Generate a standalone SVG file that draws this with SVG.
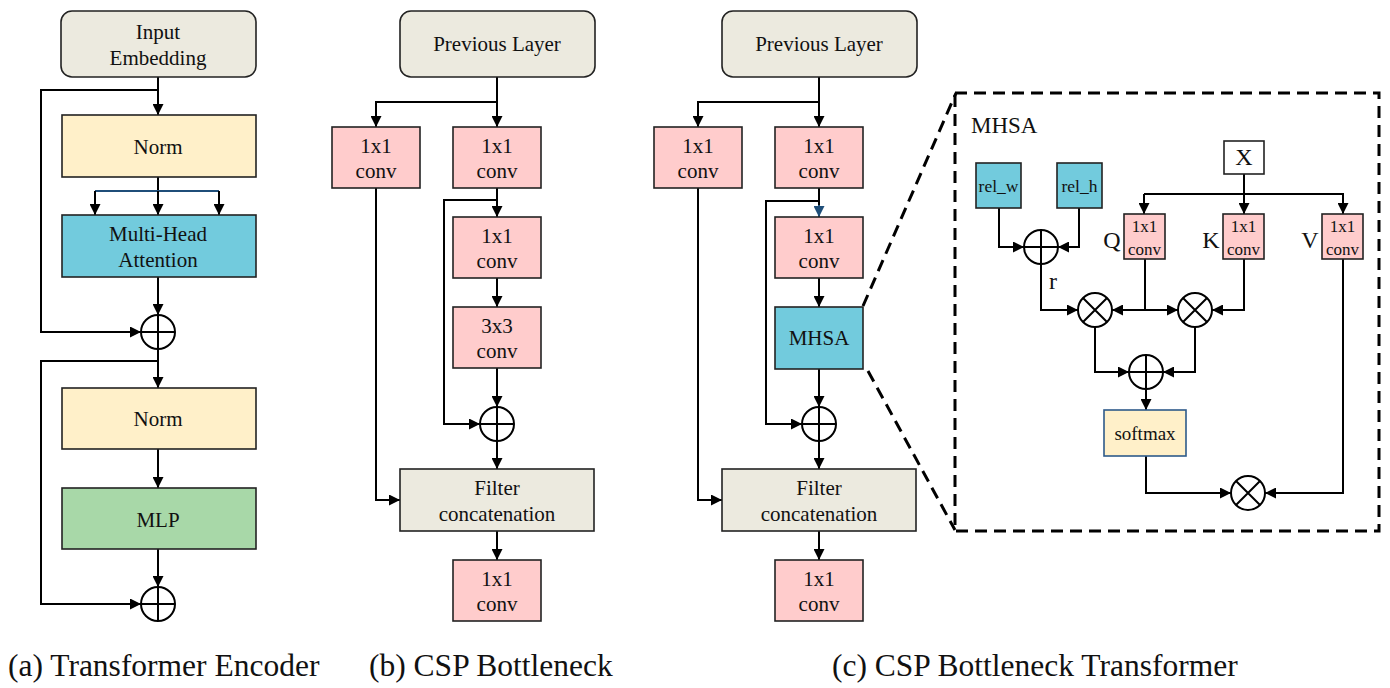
<svg xmlns="http://www.w3.org/2000/svg" width="1390" height="688" viewBox="0 0 1390 688">
<style>
text{font-family:"Liberation Serif","Times New Roman",serif;fill:#111;text-anchor:middle}
.t{font-size:21px}
.s{font-size:17px}
.cap{font-size:31.5px;text-anchor:start}
.box{stroke:#222;stroke-width:1.6}
.beige{fill:#ECEADF}
.yel{fill:#FFF0C9}
.blue{fill:#72CBDD}
.pink{fill:#FFCCCC}
.green{fill:#A8D8A8}
.ln{fill:none;stroke:#000;stroke-width:2}
.ar{fill:none;stroke:#000;stroke-width:2;marker-end:url(#ah)}
.op{fill:#fff;stroke:#000;stroke-width:2}
.dash{fill:none;stroke:#000;stroke-width:3;stroke-dasharray:12 7}
</style>
<defs>
<marker id="ah" viewBox="0 0 10 10" refX="10" refY="5" markerWidth="11" markerHeight="11" markerUnits="userSpaceOnUse" orient="auto"><path d="M0,0 L10,5 L0,10 z" fill="#000"/></marker>
<marker id="ahb" viewBox="0 0 10 10" refX="10" refY="5" markerWidth="11" markerHeight="11" markerUnits="userSpaceOnUse" orient="auto"><path d="M0,0 L10,5 L0,10 z" fill="#1F4E79"/></marker>
<g id="plus"><circle cx="0" cy="0" r="17" class="op"/><path d="M-17,0 H17 M0,-17 V17" class="ln"/></g>
<g id="times"><circle cx="0" cy="0" r="17" class="op"/><path d="M-12,-12 L12,12 M12,-12 L-12,12" class="ln"/></g>
</defs>

<!-- connectors -->
<g id="connectors">
<!-- panel a -->
<path class="ar" d="M158,77 V115"/>
<path class="ar" d="M158,90 H41 V332 H141"/>
<path class="ln" d="M158,177 V191"/>
<path d="M95,191 H219" fill="none" stroke="#1F4E79" stroke-width="2"/>
<path class="ar" d="M158,191 V215"/>
<path class="ar" d="M95,191 V215"/>
<path class="ar" d="M219,191 V215"/>
<path class="ar" d="M158,277 V315"/>
<path class="ar" d="M158,349 V388"/>
<path class="ar" d="M158,361 H41 V604 H141"/>
<path class="ar" d="M158,449 V488"/>
<path class="ar" d="M158,549 V587"/>
<!-- panel b -->
<path class="ar" d="M497,77 V127"/>
<path class="ar" d="M497,102 H376 V127"/>
<path class="ar" d="M376,188 V500 H400"/>
<path class="ar" d="M497,188 V217"/>
<path class="ar" d="M497,200 H444 V424 H480"/>
<path class="ar" d="M497,278 V307"/>
<path class="ar" d="M497,368 V407"/>
<path class="ar" d="M497,441 V469"/>
<path class="ar" d="M497,531 V560"/>
<!-- panel c -->
<path class="ar" d="M819,77 V127"/>
<path class="ar" d="M819,102 H698 V127"/>
<path class="ar" d="M698,188 V500 H722"/>
<path class="ln" d="M819,188 V205"/>
<path d="M819,205 V217" fill="none" stroke="#1F4E79" stroke-width="2" marker-end="url(#ahb)"/>
<path class="ar" d="M819,201 H766 V424 H802"/>
<path class="ar" d="M819,278 V307"/>
<path class="ar" d="M819,369 V407"/>
<path class="ar" d="M819,441 V469"/>
<path class="ar" d="M819,531 V560"/>
<!-- zoom lines -->
<path class="dash" d="M863,306 L956,93"/>
<path class="dash" d="M868,371 L955,530"/>
<!-- MHSA inner -->
<path class="ln" d="M1244,174 V194"/>
<path class="ar" d="M1144,194 H1343 V214"/>
<path class="ar" d="M1144,194 V214"/>
<path class="ar" d="M1244,194 V214"/>
<path class="ar" d="M999,208 V247 H1024"/>
<path class="ar" d="M1079,208 V247 H1058"/>
<path class="ar" d="M1041,264 V310 H1078"/>
<path class="ar" d="M1145,259 V310 H1112"/>
<path class="ar" d="M1145,310 H1178"/>
<path class="ar" d="M1244,259 V310 H1212"/>
<path class="ar" d="M1095,327 V372 H1129"/>
<path class="ar" d="M1195,327 V372 H1163"/>
<path class="ar" d="M1146,389 V410"/>
<path class="ar" d="M1146,456 V493 H1231"/>
<path class="ar" d="M1343,259 V493 H1265"/>
</g>

<!-- panel a nodes -->
<g id="a-input"><rect x="61" y="11" width="195" height="66" rx="11" class="box beige"/><text class="t" x="158" y="39">Input</text><text class="t" x="158" y="65">Embedding</text></g>
<g id="a-norm1"><rect x="62" y="115" width="194" height="62" class="box yel"/><text class="t" x="158" y="154">Norm</text></g>
<g id="a-mha"><rect x="62" y="215" width="194" height="62" class="box blue"/><text class="t" x="158" y="241">Multi-Head</text><text class="t" x="158" y="267">Attention</text></g>
<g id="a-add1"><use href="#plus" x="158" y="332"/></g>
<g id="a-norm2"><rect x="62" y="388" width="194" height="61" class="box yel"/><text class="t" x="158" y="426">Norm</text></g>
<g id="a-mlp"><rect x="62" y="488" width="194" height="61" class="box green"/><text class="t" x="158" y="527">MLP</text></g>
<g id="a-add2"><use href="#plus" x="158" y="604"/></g>

<!-- panel b nodes -->
<g id="b-prev"><rect x="400" y="11" width="195" height="66" rx="11" class="box beige"/><text class="t" x="497" y="51">Previous Layer</text></g>
<g id="b-conv-l"><rect x="332" y="127" width="88" height="61" class="box pink"/><text class="t" x="376" y="153">1x1</text><text class="t" x="376" y="178">conv</text></g>
<g id="b-conv-r"><rect x="453" y="127" width="88" height="61" class="box pink"/><text class="t" x="497" y="153">1x1</text><text class="t" x="497" y="178">conv</text></g>
<g id="b-conv2"><rect x="453" y="217" width="88" height="61" class="box pink"/><text class="t" x="497" y="243">1x1</text><text class="t" x="497" y="268">conv</text></g>
<g id="b-conv3"><rect x="453" y="307" width="88" height="61" class="box pink"/><text class="t" x="497" y="333">3x3</text><text class="t" x="497" y="358">conv</text></g>
<g id="b-add"><use href="#plus" x="497" y="424"/></g>
<g id="b-concat"><rect x="400" y="469" width="194" height="62" class="box beige"/><text class="t" x="497" y="495">Filter</text><text class="t" x="497" y="521">concatenation</text></g>
<g id="b-out"><rect x="453" y="560" width="88" height="61" class="box pink"/><text class="t" x="497" y="586">1x1</text><text class="t" x="497" y="611">conv</text></g>

<!-- panel c nodes -->
<g id="c-prev"><rect x="722" y="11" width="195" height="66" rx="11" class="box beige"/><text class="t" x="819" y="51">Previous Layer</text></g>
<g id="c-conv-l"><rect x="654" y="127" width="88" height="61" class="box pink"/><text class="t" x="698" y="153">1x1</text><text class="t" x="698" y="178">conv</text></g>
<g id="c-conv-r"><rect x="775" y="127" width="88" height="61" class="box pink"/><text class="t" x="819" y="153">1x1</text><text class="t" x="819" y="178">conv</text></g>
<g id="c-conv2"><rect x="775" y="217" width="88" height="61" class="box pink"/><text class="t" x="819" y="243">1x1</text><text class="t" x="819" y="268">conv</text></g>
<g id="c-mhsa"><rect x="775" y="307" width="88" height="62" class="box blue"/><text class="t" x="819" y="345">MHSA</text></g>
<g id="c-add"><use href="#plus" x="819" y="424"/></g>
<g id="c-concat"><rect x="722" y="469" width="194" height="62" class="box beige"/><text class="t" x="819" y="495">Filter</text><text class="t" x="819" y="521">concatenation</text></g>
<g id="c-out"><rect x="775" y="560" width="88" height="61" class="box pink"/><text class="t" x="819" y="586">1x1</text><text class="t" x="819" y="611">conv</text></g>

<!-- MHSA detail -->
<g id="mhsa-box"><rect x="955" y="93" width="424" height="438" class="dash"/><text x="971" y="133" style="font-size:23px;text-anchor:start">MHSA</text></g>
<g id="m-x"><rect x="1224" y="141" width="40" height="33" fill="#fff" class="box"/><text x="1244" y="165" style="font-size:24px">X</text></g>
<g id="m-relw"><rect x="976" y="163" width="45" height="45" class="box blue"/><text x="998.5" y="192" style="font-size:17.5px">rel_w</text></g>
<g id="m-relh"><rect x="1057" y="163" width="45" height="45" class="box blue"/><text x="1079.5" y="192" style="font-size:17.5px">rel_h</text></g>
<g id="m-q"><rect x="1124" y="214" width="41" height="45" class="box pink"/><text class="s" x="1144.5" y="232">1x1</text><text class="s" x="1144.5" y="255">conv</text><text x="1112" y="248" style="font-size:24px">Q</text></g>
<g id="m-k"><rect x="1223" y="214" width="41" height="45" class="box pink"/><text class="s" x="1243.5" y="232">1x1</text><text class="s" x="1243.5" y="255">conv</text><text x="1211" y="248" style="font-size:24px">K</text></g>
<g id="m-v"><rect x="1322" y="214" width="41" height="45" class="box pink"/><text class="s" x="1342.5" y="232">1x1</text><text class="s" x="1342.5" y="255">conv</text><text x="1310" y="248" style="font-size:24px">V</text></g>
<g id="m-radd"><use href="#plus" x="1041" y="247"/><text x="1053" y="289" style="font-size:24px">r</text></g>
<g id="m-mul1"><use href="#times" x="1095" y="310"/></g>
<g id="m-mul2"><use href="#times" x="1195" y="310"/></g>
<g id="m-add"><use href="#plus" x="1146" y="372"/></g>
<g id="m-softmax"><rect x="1104" y="410" width="82" height="46" fill="#FFF0C9" stroke="#2E5A8A" stroke-width="1.6"/><text x="1145" y="440" style="font-size:19px">softmax</text></g>
<g id="m-mul3"><use href="#times" x="1248" y="493"/></g>

<!-- captions -->
<g id="captions">
<text class="cap" x="8" y="676">(a) Transformer Encoder</text>
<text class="cap" x="369" y="676">(b) CSP Bottleneck</text>
<text class="cap" x="832" y="676">(c) CSP Bottleneck Transformer</text>
</g>
</svg>
